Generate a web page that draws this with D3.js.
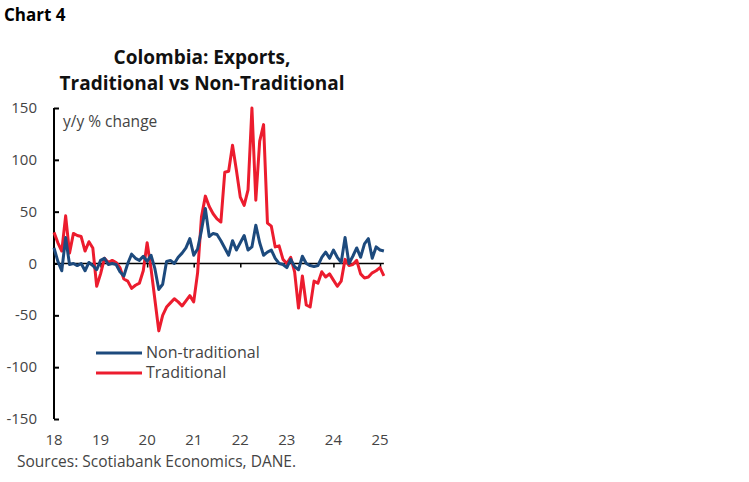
<!DOCTYPE html>
<html lang="en">
<head>
    <meta charset="UTF-8">
    <title>Colombia Exports</title>
    <script src="https://cdn.jsdelivr.net/npm/d3@7/dist/d3.min.js"></script>
    <style>
        body { margin: 0; background: #fff; }
        text { font-family: "Open Sans", Lato, sans-serif; }
    </style>
</head>
<body>
<svg width="749" height="482" id="main"></svg>
<script>
    // monthly y/y % change, Jan 2018 - Feb 2025
    const nonTraditional = [15, 2, -7, 25, -1, 0, -2, 0, -7, 1, -2, -6,
        3, 5, -1, 0, -1, -8, -12, 0, 9, 5, 3, 7,
        2, 8, -5, -25, -20, 2, 3, 0, 6, 10, 15, 24,
        8, 14, 32, 53, 26, 29, 28, 22, 15, 8, 22, 13,
        20, 27, 13, 16, 37, 20, 8, 11, 13, 5, 0, -1,
        -4, 4, -3, -6, 7, 0, -2, -3, -2, 6, 11, 5,
        13, 6, 1, 25, 0, 7, 15, 6, 19, 24, 5, 16,
        13, 12];
    const traditional = [30, 20, 12, 46, 10, 29, 27, 26, 12, 21, 15, -22,
        -10, 5, 1, 3, 1, -4, -15, -17, -24, -21, -19, -7,
        20, -5, -35, -65, -50, -42, -38, -34, -37, -41, -36, -31,
        -37, -9, 45, 65, 55, 48, 43, 40, 88, 89, 114, 90,
        64, 56, 71, 150, 61, 118, 134, 39, 36, 16, 17, 4,
        0, 6, -8, -43, -12, -40, -42, -17, -19, -8, -13, -10,
        -16, -22, -17, 4, -2, -1, 3, -10, -14, -13, -9, -7,
        -4, -12];
    const yTicks = [-150, -100, -50, 0, 50, 100, 150];
    const yearTicks = ['18', '19', '20', '21', '22', '23', '24', '25'];
    const seriesNames = ['Non-traditional', 'Traditional'];
    const seriesColors = ['#1d4a7d', '#ec1c2e'];

    const svg = d3.select('#main');
    const margin = {left: 54, top: 108};
    const innerWidth = 326;
    const innerHeight = 311;

    const xScale = d3.scaleLinear().domain([0, 84]).range([margin.left, margin.left + innerWidth]);
    const yScale = d3.scaleLinear().domain([-150, 150]).range([margin.top + innerHeight, margin.top]);

    // titles
    svg.append('text').text('Chart 4').attr('x', 4).attr('y', 21)
        .attr('font-size', 17).attr('font-weight', 'bold').attr('fill', '#000');
    svg.append('text').text('Colombia: Exports,').attr('x', 202).attr('y', 64)
        .attr('text-anchor', 'middle').attr('font-size', 19).attr('font-weight', 'bold')
        .attr('fill', '#111');
    svg.append('text').text('Traditional vs Non-Traditional').attr('x', 202).attr('y', 90)
        .attr('text-anchor', 'middle').attr('font-size', 19).attr('font-weight', 'bold')
        .attr('fill', '#111');

    // y axis
    const yAxis = d3.axisRight(yScale).tickValues(yTicks).tickSize(5).tickFormat('');
    const yg = svg.append('g').attr('transform', `translate(${margin.left}, 0)`).call(yAxis);
    yg.selectAll('.tick text').remove();
    yg.select('.domain').attr('stroke', '#000').attr('stroke-width', 2)
        .attr('d', `M0,${margin.top}V${margin.top + innerHeight}`);
    yg.selectAll('.tick line').attr('stroke', '#000').attr('stroke-width', 2);
    yTicks.forEach(v => {
        svg.append('text').text(String(v))
            .attr('x', margin.left - 17).attr('y', yScale(v) + 5).attr('text-anchor', 'end')
            .attr('font-size', 15).attr('fill', '#444');
    });

    // zero line with year ticks
    const xAxis = d3.axisBottom(xScale).tickValues(yearTicks.slice(1).map(y => (y - 18) * 12))
        .tickSize(4).tickFormat('');
    const xg = svg.append('g').attr('transform', `translate(0, ${yScale(0)})`).call(xAxis);
    xg.selectAll('.tick text').remove();
    xg.select('.domain').attr('stroke', '#000').attr('stroke-width', 1.5)
        .attr('d', `M${xScale(0)},0H${xScale(85)}`);
    xg.selectAll('.tick line').attr('stroke', '#000').attr('stroke-width', 1.5);

    // year labels along bottom
    yearTicks.forEach(y => {
        svg.append('text').text(y)
            .attr('x', xScale((y - 18) * 12)).attr('y', margin.top + innerHeight + 26)
            .attr('text-anchor', 'middle').attr('font-size', 15).attr('fill', '#444');
    });

    // lines
    const line = d3.line().x((d, i) => xScale(i)).y(d => yScale(d));
    svg.append('path').datum(traditional).attr('d', line).attr('fill', 'none')
        .attr('stroke', seriesColors[1]).attr('stroke-width', 3).attr('stroke-linejoin', 'round');
    svg.append('path').datum(nonTraditional).attr('d', line).attr('fill', 'none')
        .attr('stroke', seriesColors[0]).attr('stroke-width', 3).attr('stroke-linejoin', 'round');

    svg.append('text').text('y/y % change').attr('x', 63).attr('y', 127)
        .attr('font-size', 15.5).attr('fill', '#444');

    // legend
    seriesNames.forEach((name, i) => {
        const ly = 353 + i * 20;
        svg.append('line').attr('x1', 96).attr('x2', 142).attr('y1', ly).attr('y2', ly)
            .attr('stroke', seriesColors[i]).attr('stroke-width', 3);
        svg.append('text').text(name).attr('x', 146).attr('y', ly + 5)
            .attr('font-size', 16).attr('fill', '#444');
    });

    svg.append('text').text('Sources: Scotiabank Economics, DANE.').attr('x', 17).attr('y', 467)
        .attr('font-size', 15.5).attr('fill', '#444');
</script>
</body>
</html>
